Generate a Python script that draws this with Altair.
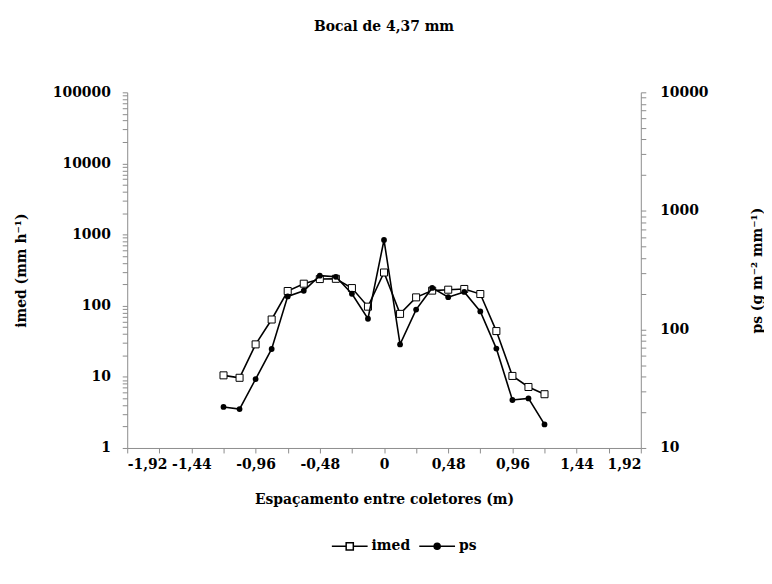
import altair as alt
import pandas as pd

# ---- data ----
x_pos = [-1.2, -1.08, -0.96, -0.84, -0.72, -0.6, -0.48, -0.36, -0.24, -0.12, 0.0,
         0.12, 0.24, 0.36, 0.48, 0.6, 0.72, 0.84, 0.96, 1.08, 1.2]
imed = [10.5, 9.7, 28.6, 64, 161, 204, 237, 239, 177, 97, 293,
        76.8, 131, 163, 168, 172, 146, 44, 10.3, 7.2, 5.7]
ps = [22.2, 21.3, 38.1, 68.4, 190, 212, 284, 278, 200, 123, 568,
      74.8, 147, 224, 187, 207, 142, 68.9, 25.4, 26.2, 15.8]

series_names = ["imed", "ps"]
x_ticks = [round(-1.92 + 0.24 * i, 2) for i in range(17)]
left_ticks = [k * 10 ** e for e in range(0, 5) for k in range(1, 10)] + [100000]
right_ticks = [k * 10 ** e for e in range(1, 4) for k in range(1, 10)] + [10000]
left_major = [1, 10, 100, 1000, 10000, 100000]
right_major = [10, 100, 1000, 10000]

df = pd.DataFrame({"x": x_pos, "imed": imed, "ps": ps})
leg_df = pd.DataFrame({"series": series_names, "x": [0.0, 0.0], "imed": [1.0, 1.0]})

FONT = "DejaVu Serif"
FS = 14
AX = dict(grid=False, domainColor="#8c8c8c", tickColor="#8c8c8c", tickSize=5,
          labelFont=FONT, labelFontSize=FS, labelFontWeight="bold", labelColor="black",
          titleFont=FONT, titleFontSize=FS, titleFontWeight="bold", titleColor="black")

x_label_expr = ("(round(datum.value/0.24) % 2 != 0) ? '' : (abs(datum.value) < 0.001 ? '0' : "
                "replace(replace(format(datum.value, '.2f'), '.', ','), '\u2212', '-'))")

x_enc = alt.X(
    "x:Q",
    scale=alt.Scale(domain=[-1.92, 1.92], nice=False, zero=False),
    axis=alt.Axis(
        values=x_ticks, labelExpr=x_label_expr, title="Espaçamento entre coletores (m)",
        titleY=52, titleBaseline="middle", labelPadding=5, **AX,
    ),
)

left_expr = "indexof(%s, datum.value) >= 0 ? format(datum.value, 'd') : ''" % str(left_major)
right_expr = "indexof(%s, datum.value) >= 0 ? format(datum.value, 'd') : ''" % str(right_major)

y_imed = alt.Y(
    "imed:Q",
    scale=alt.Scale(type="log", domain=[1, 100000], nice=False),
    axis=alt.Axis(
        orient="left", values=left_ticks, labelExpr=left_expr, title="imed (mm h\u207b\u00b9)",
        labelPadding=12, titleX=-106, titleY=179, titleAngle=270,
        titleAlign="center", titleBaseline="middle", **AX,
    ),
)
y_ps = alt.Y(
    "ps:Q",
    scale=alt.Scale(type="log", domain=[10, 10000], nice=False),
    axis=alt.Axis(
        orient="right", values=right_ticks, labelExpr=right_expr,
        title="ps (g m\u207b\u00b2 mm\u207b\u00b9)",
        labelPadding=14, titleX=117, titleY=179, titleAngle=270,
        titleAlign="center", titleBaseline="middle", **AX,
    ),
)

base = alt.Chart(df)

imed_line = base.mark_line(color="black", strokeWidth=1.6).encode(x=x_enc, y=y_imed)
imed_pts = base.mark_point(shape="square", filled=True, fill="white", stroke="black",
                           strokeWidth=1, size=50, opacity=1).encode(x=x_enc, y=y_imed)

path_imed = "M-1,0H-0.2M0.2,0H1M-0.2,-0.2H0.2V0.2H-0.2Z"
path_ps = "M-1,0H1M0.17,0A0.17,0.17,0,1,1,-0.17,0A0.17,0.17,0,1,1,0.17,0Z"

LEG = dict(title=None, orient="none", direction="horizontal",
           legendX=205, legendY=438, symbolSize=1296,
           symbolStrokeColor="black", symbolStrokeWidth=1.5, symbolOpacity=1,
           labelFont=FONT, labelFontSize=FS, labelFontWeight="bold",
           labelColor="black", labelOffset=3, columnPadding=6)

legend_layer = alt.Chart(leg_df).transform_filter("false").mark_point(
    filled=True, strokeWidth=1.5, opacity=1
).encode(
    x=x_enc,
    y=y_imed,
    shape=alt.Shape("series:N", scale=alt.Scale(domain=series_names, range=[path_imed, path_ps]),
                    legend=alt.Legend(**LEG)),
    fill=alt.Fill("series:N", scale=alt.Scale(domain=series_names, range=["white", "black"]),
                  legend=alt.Legend(**LEG)),
    stroke=alt.Stroke("series:N", scale=alt.Scale(domain=series_names, range=["black", "black"]),
                      legend=alt.Legend(**LEG)),
)

ps_line = base.mark_line(color="black", strokeWidth=1.6).encode(x=x_enc, y=y_ps)
ps_pts = base.mark_circle(color="black", size=34, opacity=1).encode(x=x_enc, y=y_ps)

left_group = alt.layer(imed_line, imed_pts, legend_layer)
right_group = alt.layer(ps_line, ps_pts)

chart = alt.layer(left_group, right_group).resolve_scale(y="independent").properties(
    width=517,
    height=358,
    background="white",
    autosize=alt.AutoSizeParams(type="none"),
    padding={"left": 120, "top": 83, "right": 124, "bottom": 130},
    title=alt.TitleParams("Bocal de 4,37 mm", font=FONT, fontSize=FS, fontWeight="bold",
                          color="black", anchor="middle", offset=52),
).configure_view(stroke=None)

chart.save("out.html", embed_options={"renderer": "svg", "actions": False})
